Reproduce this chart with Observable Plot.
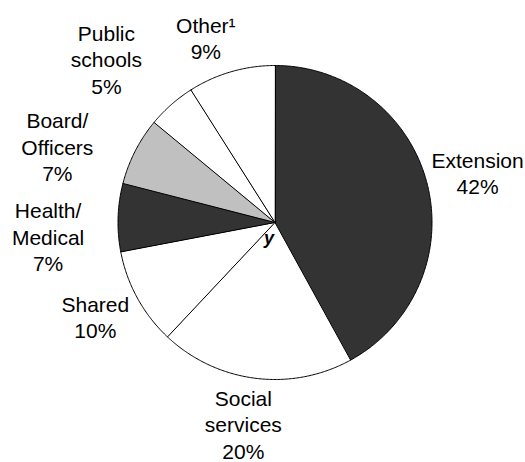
<!DOCTYPE html>
<html>
<head>
<meta charset="utf-8">
<script src="https://cdn.jsdelivr.net/npm/d3@7"></script>
<script src="https://cdn.jsdelivr.net/npm/@observablehq/plot@0.6"></script>
<style>
  html, body { margin: 0; padding: 0; background: #fff; }
  #chart { width: 525px; height: 462px; }
</style>
</head>
<body>
<div id="chart"></div>
<script>
// ---- data ----
const categories = ["Extension", "Social services", "Shared", "Health/Medical", "Board/Officers", "Public schools", "Other"];
const labelText = ["Extension", "Social\nservices", "Shared", "Health/\nMedical", "Board/\nOfficers", "Public\nschools", "Other\u00B9"];
const shares = [42, 20, 10, 7, 7, 5, 9];

// ---- layout / style (not data) ----
const W = 525, H = 462;
const cx = 274.5, cy = 222, R = 157;
const labelR = 205;
// per-label nudges (pixels, x right / y up) applied to the radial label anchor
const labelNudge = [[4, -1], [-6, 2], [0, 5], [-22, -20], [-35, -17], [-33, 10], [-12, -12]];
const sliceColors = ["#333333", "#ffffff", "#ffffff", "#333333", "#c0c0c0", "#ffffff", "#ffffff"];

const total = d3.sum(shares);
let cum = 0;
const slices = categories.map((c, i) => {
  const a0 = cum / total * 2 * Math.PI;
  cum += shares[i];
  const a1 = cum / total * 2 * Math.PI;
  return {cat: c, label: labelText[i], share: shares[i], a0, a1, mid: (a0 + a1) / 2, nudge: labelNudge[i]};
});

// polygon outline of each wedge (centre + arc), angle measured clockwise from 12 o'clock
const outline = [];
for (const s of slices) {
  outline.push({cat: s.cat, x: 0, y: 0});
  const n = Math.max(2, Math.ceil((s.a1 - s.a0) / (Math.PI / 360)));
  for (let k = 0; k <= n; k++) {
    const a = s.a0 + (s.a1 - s.a0) * k / n;
    outline.push({cat: s.cat, x: R * Math.sin(a), y: R * Math.cos(a)});
  }
}

const labels = slices.map(s => ({
  x: labelR * Math.sin(s.mid) + s.nudge[0],
  y: labelR * Math.cos(s.mid) + s.nudge[1],
  text: `${s.label}\n${s.share}%`
}));

const chart = Plot.plot({
  width: W,
  height: H,
  margin: 0,
  x: {domain: [-cx, W - cx], range: [0, W], axis: null},
  y: {domain: [cy, cy - H], range: [0, H], axis: null},
  color: {type: "ordinal", domain: categories, range: sliceColors},
  style: {fontFamily: "'Liberation Sans', Arial, sans-serif", background: "#fff"},
  marks: [
    Plot.line(outline, {x: "x", y: "y", z: "cat", fill: "cat", stroke: "#000", strokeWidth: 1, curve: "linear-closed"}),
    Plot.text(labels, {x: "x", y: "y", text: "text", fontSize: 21, lineHeight: 1.26, fill: "#000", textAnchor: "middle"}),
    Plot.text([{x: 0, y: 0, t: "y"}], {x: "x", y: "y", text: "t", dx: -6, dy: 16, fontSize: 18, fontWeight: "bold", fontStyle: "italic", fill: "#000"})
  ]
});
document.getElementById("chart").appendChild(chart);
</script>
</body>
</html>
